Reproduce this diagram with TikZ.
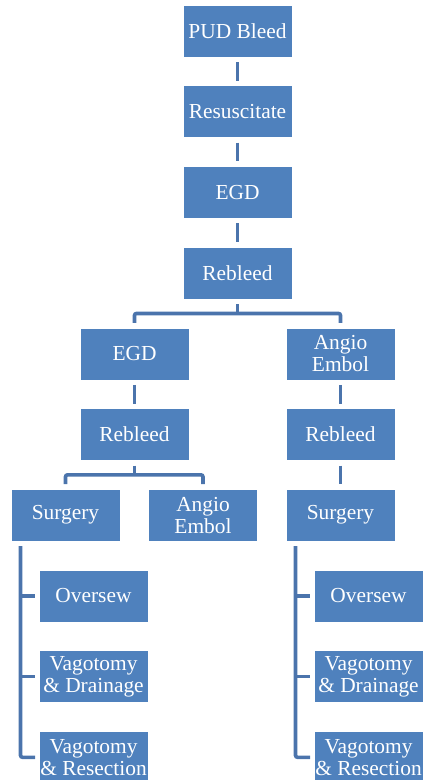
\documentclass[tikz,border=0pt]{standalone}
\usepackage{fontspec}
\setmainfont{Liberation Serif}
\newfontfamily\boxfont{Liberation Serif}
\usepackage{tikz}
\usetikzlibrary{positioning, calc}
\definecolor{boxblue}{HTML}{4F81BD}
\definecolor{linkblue}{HTML}{4B74AC}

\begin{document}
\begin{tikzpicture}[
    node distance=28.7pt,
    box/.style={
        rectangle, draw=white, line width=0.6pt, fill=boxblue,
        minimum width=109pt, minimum height=52pt,
        inner xsep=0.5pt, inner ysep=2pt, outer sep=0pt,
        text=white, font=\boxfont\fontsize{21.4}{22}\selectfont,
        align=center
    },
    link/.style={line width=3.6pt, linkblue},
    cut/.style={shorten <=5pt, shorten >=5pt}
]
\useasboundingbox (0,0) rectangle (427pt,-780pt);

% main column
\node[box] (pud) at (237.5pt,-31pt) {PUD Bleed};
\node[box, below=of pud]     (resus)   {Resuscitate};
\node[box, below=of resus]   (egd)     {EGD};
\node[box, below=of egd]     (rebleed) {Rebleed};

% left branch
\node[box, below=of rebleed, xshift=-103pt] (egdL)     {EGD};
\node[box, below=of egdL]                   (rebleedL) {Rebleed};
\node[box, below=of rebleedL, xshift=-69pt] (surgL)    {Surgery};
\node[box, below=of rebleedL, xshift=68.5pt](angioL)   {Angio\\Embol};
\node[box, below=of surgL, xshift=28pt]     (overL)    {Oversew};
\node[box, below=of overL]                  (drainL)   {Vagotomy\\\& Drainage};
\node[box, below=of drainL]                 (resecL)   {Vagotomy\\\& Resection};

% right branch
\node[box, below=of rebleed, xshift=103pt]  (angioR)   {Angio\\Embol};
\node[box, below=of angioR]                 (rebleedR) {Rebleed};
\node[box, below=of rebleedR]               (surgR)    {Surgery};
\node[box, below=of surgR, xshift=28pt]     (overR)    {Oversew};
\node[box, below=of overR]                  (drainR)   {Vagotomy\\\& Drainage};
\node[box, below=of drainR]                 (resecR)   {Vagotomy\\\& Resection};

\foreach \a/\b in {pud/resus, resus/egd, egd/rebleed, egdL/rebleedL,
                   angioR/rebleedR, rebleedR/surgR}
  \draw[link, cut] (\a) -- (\b);

% forks
\coordinate (busA) at ($(rebleed.south)!.5!(rebleed.south |- egdL.north)$);
\draw[link] ([yshift=-5pt]rebleed.south) -- (busA);
\draw[link, rounded corners=2pt] ([yshift=5pt]egdL.north) |- (busA)
    -| ([yshift=5pt]angioR.north);
\coordinate (busB) at ($(rebleedL.south)!.5!(rebleedL.south |- surgL.north)$);
\draw[link] ([yshift=-5pt]rebleedL.south) -- (busB);
\draw[link, rounded corners=2pt] ([yshift=5pt]surgL.north) |- (busB)
    -| ([yshift=5pt]angioL.north);

% surgery brackets
\foreach \s/\l in {surgL/L, surgR/R} {
  \coordinate (br\l) at ([xshift=9.5pt]\s.south west);
  \draw[link, rounded corners=2pt] ([yshift=-5pt]br\l)
      |- ([xshift=-4pt]resec\l.west);
  \foreach \n in {over\l, drain\l}
    \draw[link] (br\l |- \n.west) -- ([xshift=-4pt]\n.west);
}
\end{tikzpicture}
\end{document}
